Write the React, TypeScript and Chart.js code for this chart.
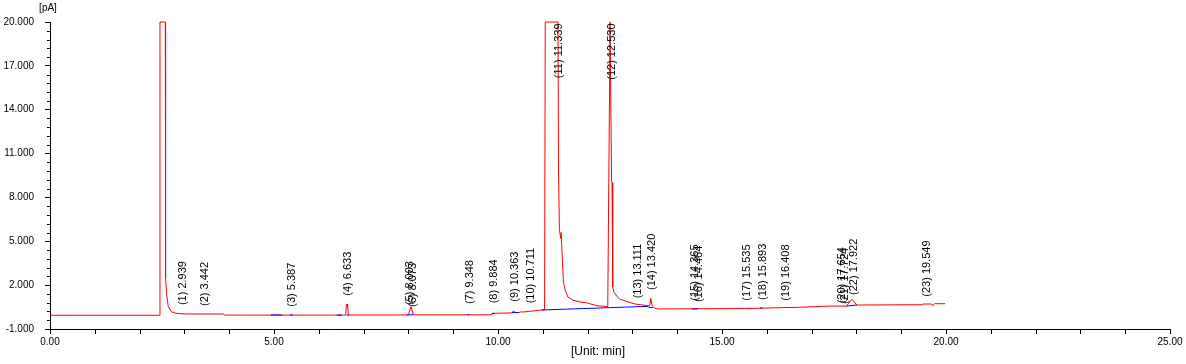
import React, { useEffect, useRef } from 'react';
import { Chart, registerables } from 'chart.js';

Chart.register(...registerables);

// ---- Data ----
const signalTimes = [
  0, 2.44, 2.455, 2.574, 2.58, 2.6, 2.64, 2.71, 2.82, 3.01, 3.88, 3.89,
  6.6, 6.615, 6.63, 6.64, 6.66, 8.0, 8.06, 8.11, 9.86, 9.87, 10.31, 10.34,
  10.4, 10.49, 10.52, 10.56, 10.98, 11.04, 11.055, 11.339, 11.35, 11.37,
  11.4, 11.41, 11.43, 11.46, 11.5, 11.56, 11.67, 11.83, 11.99, 12.21, 12.45,
  12.49, 12.5, 12.52, 12.535, 12.545, 12.56, 12.585, 12.66, 12.73, 12.88,
  13.06, 13.35, 13.39, 13.41, 13.44, 13.5, 13.57, 15.5, 16.67, 17.41, 17.78,
  17.85, 17.9, 17.95, 18.01, 19.47, 19.49, 19.68, 19.7, 19.74, 19.98,
];
const signalValues = [
  -0.06, -0.06, 20, 20, 2.49, 1.46, 0.53, 0.18, 0.07, 0.03, 0.03, -0.05,
  -0.05, 0.71, 0.55, 0.71, -0.04, -0.04, 0.53, -0.03, -0.03, 0.07, 0.1, 0.23,
  0.12, 0.14, 0.18, 0.16, 0.3, 0.32, 20, 20, 10.2, 5.8,
  5.2, 5.6, 4.2, 2.2, 1.67, 1.19, 0.98, 0.85, 0.78, 0.59, 0.53,
  15.3, 20, 20, 9.2, 9.0, 1.87, 1.55, 1.21, 1.03, 0.87,
  0.71, 0.59, 0.62, 1.1, 0.62, 0.42, 0.37, 0.4, 0.48, 0.57, 0.57,
  0.85, 1.03, 0.85, 0.64, 0.66, 0.71, 0.71, 0.59, 0.73, 0.73,
];

// integration baselines (blue segments)
const baseStartTimes = [4.93, 5.36, 6.4, 6.62, 7.96, 9.32, 9.86, 10.31, 10.98, 13.35, 14.32, 15.85, 17.78];
const baseStartValues = [-0.04, -0.04, -0.05, -0.05, -0.03, -0.02, 0.05, 0.12, 0.3, 0.5, 0.37, 0.44, 0.57];
const baseEndTimes = [5.18, 5.42, 6.51, 6.68, 8.11, 9.36, 9.92, 10.46, 13.35, 13.46, 14.46, 15.9, 18.01];
const baseEndValues = [-0.04, -0.04, -0.05, -0.05, -0.03, -0.02, 0.07, 0.13, 0.55, 0.45, 0.37, 0.44, 0.64];

const peakNumbers = [1, 2, 3, 4, 5, 6, 7, 8, 9, 10, 11, 12, 13, 14, 15, 16, 17, 18, 19, 20, 21, 22, 23];
const peakTimes = [
  2.939, 3.442, 5.387, 6.633, 8.003, 8.073, 9.348, 9.884, 10.363, 10.711, 11.339, 12.53,
  13.111, 13.42, 14.365, 14.464, 15.535, 15.893, 16.408, 17.654, 17.724, 17.922, 19.549,
];
const peakLabelLevels = [
  0.09, 0.03, -0.02, 0.73, 0.09, -0.04, 0.16, 0.21, 0.32, 0.21, 20, 20,
  0.55, 1.12, 0.39, 0.3, 0.39, 0.44, 0.39, 0.21, 0.16, 0.78, 0.66,
];

const xTickValues = [0, 5, 10, 15, 20, 25];
const yTickValues = [-1, 2, 5, 8, 11, 14, 17, 20];
const xAxisTitle = '[Unit: min]';
const yAxisTitle = '[pA]';

const FONT = '"Liberation Sans", Arial, sans-serif';

const overlayPlugin = {
  id: 'overlay',
  afterDraw(chart: any) {
    const { ctx, chartArea, scales } = chart;
    const xs = scales.x;
    const ys = scales.y;
    ctx.save();
    ctx.strokeStyle = '#000';
    ctx.lineWidth = 1;
    ctx.beginPath();
    // x minor ticks
    for (let i = 0; i < xTickValues.length - 1; i++) {
      const a = xTickValues[i];
      const step = (xTickValues[i + 1] - a) / 5;
      for (let k = 1; k < 5; k++) {
        const x = Math.round(xs.getPixelForValue(a + k * step)) + 0.5;
        ctx.moveTo(x, chartArea.bottom);
        ctx.lineTo(x, chartArea.bottom + 5);
      }
    }
    // y minor ticks
    for (let i = 0; i < yTickValues.length - 1; i++) {
      const a = yTickValues[i];
      const step = (yTickValues[i + 1] - a) / 5;
      for (let k = 1; k < 5; k++) {
        const y = Math.round(ys.getPixelForValue(a + k * step)) + 0.5;
        ctx.moveTo(chartArea.left - 3, y);
        ctx.lineTo(chartArea.left, y);
      }
    }
    ctx.stroke();

    // axis titles
    ctx.fillStyle = '#000';
    ctx.textAlign = 'center';
    ctx.textBaseline = 'middle';
    ctx.font = '10px ' + FONT;
    ctx.fillText(yAxisTitle, chartArea.left - 2, 8);
    ctx.font = '12px ' + FONT;
    ctx.fillText(xAxisTitle, (chartArea.left + chartArea.right) / 2 - 12, 352);

    // peak labels
    ctx.font = '11px ' + FONT;
    ctx.textBaseline = 'middle';
    peakTimes.forEach((t, i) => {
      const text = `(${peakNumbers[i]}) ${t.toFixed(3)}`;
      const w = ctx.measureText(text).width;
      const x = xs.getPixelForValue(t) + 1;
      const yb = ys.getPixelForValue(peakLabelLevels[i]) - 8;
      ctx.save();
      if (yb - w < chartArea.top) {
        ctx.translate(x, chartArea.top + 1.5);
        ctx.rotate(-Math.PI / 2);
        ctx.textAlign = 'right';
      } else {
        ctx.translate(x, yb);
        ctx.rotate(-Math.PI / 2);
        ctx.textAlign = 'left';
      }
      ctx.fillText(text, 0, 0);
      ctx.restore();
    });
    ctx.restore();
  },
};

export default function App() {
  const canvasRef = useRef<HTMLCanvasElement | null>(null);

  useEffect(() => {
    if (!canvasRef.current) return;
    const signal = signalTimes.map((t, i) => ({ x: t, y: signalValues[i] }));
    const baseline: { x: number; y: number | null }[] = [];
    baseStartTimes.forEach((t, i) => {
      baseline.push({ x: t, y: baseStartValues[i] });
      baseline.push({ x: baseEndTimes[i], y: baseEndValues[i] });
      baseline.push({ x: baseEndTimes[i], y: null });
    });

    const chart = new Chart(canvasRef.current, {
      type: 'line',
      data: {
        datasets: [
          {
            label: 'baseline',
            data: baseline as any,
            borderColor: '#0000ff',
            borderWidth: 1,
            pointRadius: 0,
            spanGaps: false,
            tension: 0,
            order: 0,
          },
          {
            label: 'signal',
            data: signal,
            borderColor: '#ff0000',
            borderWidth: 1,
            pointRadius: 0,
            tension: 0,
            clip: 3 as any,
            order: 1,
          },
        ],
      },
      options: {
        responsive: false,
        animation: false,
        devicePixelRatio: 1,
        parsing: false as any,
        normalized: true,
        layout: { padding: { top: 22, right: 16, left: 0, bottom: 0 } },
        plugins: { legend: { display: false }, tooltip: { enabled: false } },
        scales: {
          x: {
            type: 'linear',
            min: xTickValues[0],
            max: xTickValues[xTickValues.length - 1],
            afterBuildTicks: (s: any) => {
              s.ticks = xTickValues.map((v) => ({ value: v }));
            },
            afterFit: (s: any) => {
              s.height = 35;
            },
            grid: { drawOnChartArea: false, drawTicks: true, tickLength: 5, color: '#000' },
            border: { display: true, color: '#000' },
            ticks: {
              callback: (v: any) => Number(v).toFixed(2),
              color: '#000',
              font: { size: 10, family: FONT },
              padding: 2,
              maxRotation: 0,
              autoSkip: false,
            },
          },
          y: {
            type: 'linear',
            min: yTickValues[0],
            max: yTickValues[yTickValues.length - 1],
            afterBuildTicks: (s: any) => {
              s.ticks = yTickValues.map((v) => ({ value: v }));
            },
            afterFit: (s: any) => {
              s.width = 50;
            },
            grid: { drawOnChartArea: false, drawTicks: true, tickLength: 5, color: '#000' },
            border: { display: true, color: '#000' },
            ticks: {
              callback: (v: any) => Number(v).toFixed(3),
              color: '#000',
              font: { size: 10, family: FONT },
              padding: 11,
              autoSkip: false,
            },
          },
        },
      },
      plugins: [overlayPlugin],
    });
    return () => chart.destroy();
  }, []);

  return (
    <div style={{ position: 'absolute', left: 0, top: 0, width: 1186, height: 364, background: '#fff' }}>
      <canvas ref={canvasRef} width={1186} height={364} style={{ display: 'block' }} />
    </div>
  );
}
